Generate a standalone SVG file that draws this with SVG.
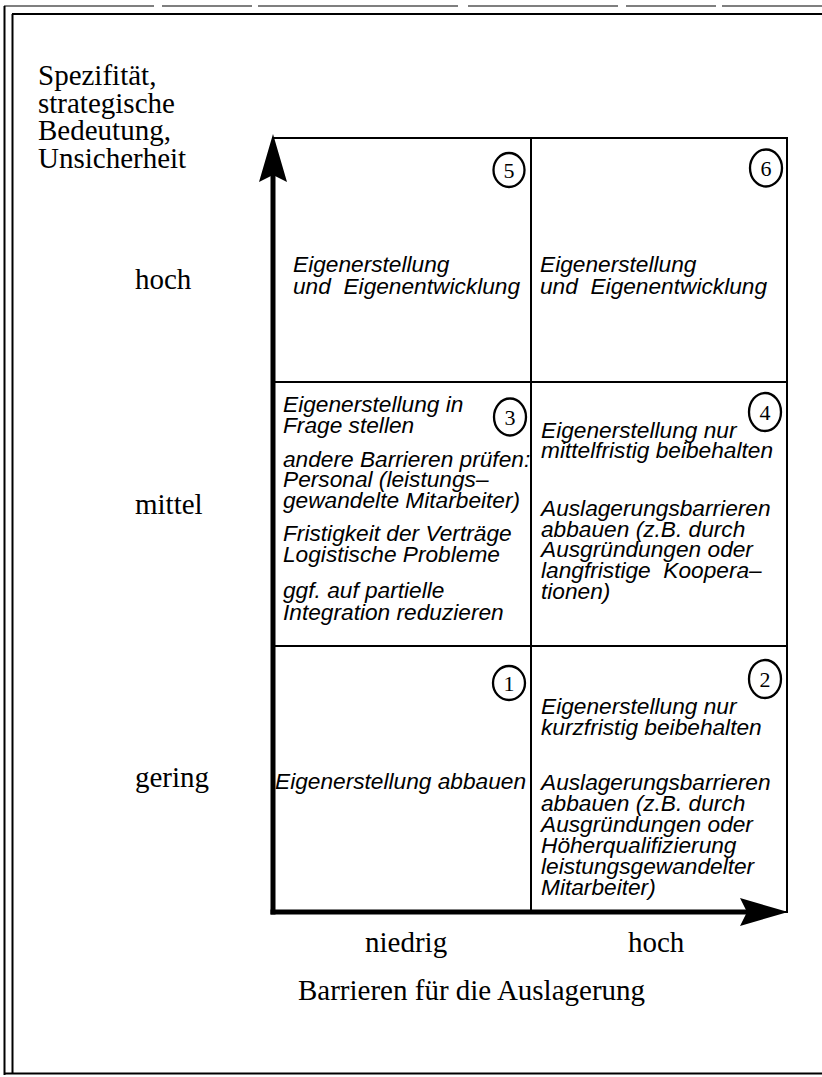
<svg xmlns="http://www.w3.org/2000/svg" width="822" height="1077" viewBox="0 0 822 1077">
<style>
.serif{font-family:"Liberation Serif","Times New Roman",serif;fill:#000}
.lbl{font-size:29px}
.ax{font-size:29px}
.cell{font-family:"Liberation Sans",Arial,sans-serif;font-style:italic;font-size:22.7px;fill:#000}
.num{font-family:"Liberation Serif","Times New Roman",serif;font-size:22px;fill:#000;text-anchor:middle}
.circ{fill:none;stroke:#000;stroke-width:2.3}
.grid{fill:none;stroke:#000;stroke-width:2}
.axis{stroke:#000;stroke-width:5;fill:none}
.frame{stroke:#000;fill:none}
</style>
<defs>
<marker id="head" viewBox="0 -14 48 28" refX="32" refY="0" markerWidth="48" markerHeight="28" markerUnits="userSpaceOnUse" orient="auto">
<path d="M0,-14 L48,0 L0,14 L7,0 Z" fill="#000"/>
</marker>
</defs>
<rect width="822" height="1077" fill="#fff"/>
<g id="frame">
<line class="frame" x1="4.5" y1="6" x2="4.5" y2="1075" stroke-width="2"/>
<line class="frame" x1="12.5" y1="14" x2="12.5" y2="1073" stroke-width="2"/>
<line class="frame" x1="4" y1="6" x2="822" y2="6" stroke-width="1.2" stroke="#444" stroke-dasharray="150 8 90 6 200 10"/>
<line class="frame" x1="12" y1="14" x2="822" y2="14" stroke-width="2"/>
<line class="frame" x1="4" y1="1073.5" x2="822" y2="1073.5" stroke-width="2"/>
</g>
<g id="grid">
<rect class="grid" x="273" y="138" width="514" height="774"/>
<line class="grid" x1="531" y1="138" x2="531" y2="912"/>
<line class="grid" x1="273" y1="382" x2="787" y2="382"/>
<line class="grid" x1="273" y1="646" x2="787" y2="646"/>
</g>
<g id="cell5">
<ellipse class="circ" cx="509" cy="170" rx="15.5" ry="17"/>
<text class="num" x="509" y="178">5</text>
<text class="cell" x="293" y="272">Eigenerstellung</text>
<text class="cell" x="293" y="294">und&#160; Eigenentwicklung</text>
</g>
<g id="cell6">
<ellipse class="circ" cx="766" cy="168" rx="16" ry="18.5"/>
<text class="num" x="766" y="176">6</text>
<text class="cell" x="540" y="272">Eigenerstellung</text>
<text class="cell" x="540" y="294">und&#160; Eigenentwicklung</text>
</g>
<g id="cell3">
<ellipse class="circ" cx="510" cy="417" rx="16" ry="18.5"/>
<text class="num" x="510" y="425">3</text>
<text class="cell" x="283" y="412">Eigenerstellung in</text>
<text class="cell" x="283" y="433">Frage stellen</text>
<text class="cell" x="283" y="467">andere Barrieren prüfen:</text>
<text class="cell" x="283" y="487">Personal (leistungs–</text>
<text class="cell" x="283" y="508">gewandelte Mitarbeiter)</text>
<text class="cell" x="283" y="541">Fristigkeit der Verträge</text>
<text class="cell" x="283" y="562">Logistische Probleme</text>
<text class="cell" x="283" y="598">ggf. auf partielle</text>
<text class="cell" x="283" y="620">Integration reduzieren</text>
</g>
<g id="cell4">
<ellipse class="circ" cx="765" cy="412" rx="16" ry="19"/>
<text class="num" x="765" y="420">4</text>
<text class="cell" x="541" y="438">Eigenerstellung nur</text>
<text class="cell" x="541" y="458">mittelfristig beibehalten</text>
<text class="cell" x="541" y="516">Auslagerungsbarrieren</text>
<text class="cell" x="541" y="537">abbauen (z.B. durch</text>
<text class="cell" x="541" y="557">Ausgründungen oder</text>
<text class="cell" x="541" y="578">langfristige&#160; Koopera–</text>
<text class="cell" x="541" y="599">tionen)</text>
</g>
<g id="cell1">
<ellipse class="circ" cx="509" cy="683" rx="16" ry="17"/>
<text class="num" x="509" y="691">1</text>
<text class="cell" x="275" y="789">Eigenerstellung abbauen</text>
</g>
<g id="cell2">
<ellipse class="circ" cx="765" cy="679" rx="16" ry="19"/>
<text class="num" x="765" y="687">2</text>
<text class="cell" x="541" y="714">Eigenerstellung nur</text>
<text class="cell" x="541" y="735">kurzfristig beibehalten</text>
<text class="cell" x="541" y="790">Auslagerungsbarrieren</text>
<text class="cell" x="541" y="811">abbauen (z.B. durch</text>
<text class="cell" x="541" y="832">Ausgründungen oder</text>
<text class="cell" x="541" y="853">Höherqualifizierung</text>
<text class="cell" x="541" y="874">leistungsgewandelter</text>
<text class="cell" x="541" y="895">Mitarbeiter)</text>
</g>
<g id="connectors">
<line class="axis" x1="273" y1="914.5" x2="273" y2="150" marker-end="url(#head)"/>
<line class="axis" x1="270.5" y1="912" x2="772" y2="912" marker-end="url(#head)"/>
</g>
<g id="labels">
<text class="serif lbl" x="38" y="85">Spezifität,</text>
<text class="serif lbl" x="38" y="113">strategische</text>
<text class="serif lbl" x="38" y="140">Bedeutung,</text>
<text class="serif lbl" x="38" y="168">Unsicherheit</text>
<text class="serif ax" x="135" y="289">hoch</text>
<text class="serif ax" x="135" y="514">mittel</text>
<text class="serif ax" x="135" y="787">gering</text>
<text class="serif ax" x="365" y="952">niedrig</text>
<text class="serif ax" x="628" y="952">hoch</text>
<text class="serif ax" x="298" y="1000">Barrieren für die Auslagerung</text>
</g>
</svg>
